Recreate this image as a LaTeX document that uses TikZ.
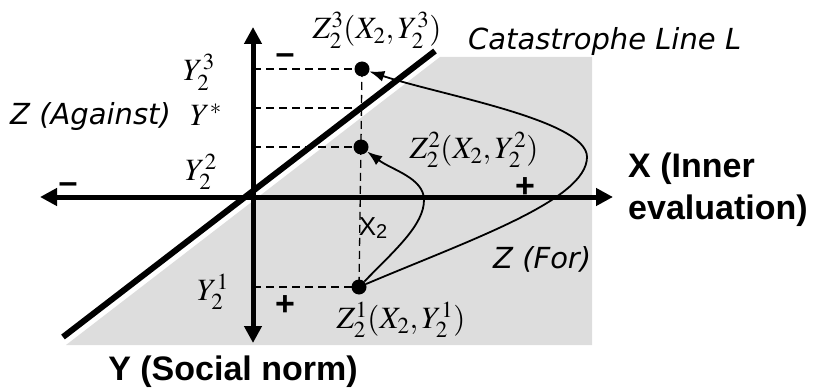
\documentclass[tikz,border=0pt]{standalone}
\usepackage{mathptmx}
\usepackage{fontspec}
\setmainfont{Liberation Serif}
\newfontfamily\boldsans{Liberation Sans}
\newfontfamily\comicf{DejaVu Sans}
\usetikzlibrary{arrows.meta}
\definecolor{shadegray}{RGB}{221,221,221}
\begin{document}
\begin{tikzpicture}[x=1pt,y=-1pt,
  axisln/.style={line width=5pt,{Triangle[length=17pt,width=17pt]}-{Triangle[length=17pt,width=17pt]}},
  catline/.style={line width=6pt},
  dashln/.style={line width=1.3pt,dash pattern=on 8pt off 5pt},
  curveln/.style={line width=1.8pt,-{Latex[length=15pt,width=11pt]}},
  dot/.style={circle,fill=black,inner sep=0pt,minimum size=15pt},
  mathlbl/.style={inner sep=0pt,font=\fontsize{31}{31}\selectfont},
  comiclbl/.style={inner sep=0pt,font=\comicf\itshape\fontsize{29}{29}\selectfont},
  boldlbl/.style={inner sep=0pt,font=\boldsans\bfseries\fontsize{34}{34}\selectfont},
  signlbl/.style={inner sep=0pt,font=\boldsans\bfseries\fontsize{34}{34}\selectfont},
  sanslbl/.style={inner sep=0pt,font=\boldsans\fontsize{26}{26}\selectfont}]
\useasboundingbox (0,0) rectangle (813,390);
% shaded region
\fill[shadegray] (66,345) -- (440,57) -- (592,57) -- (592,345) -- cycle;
% point coordinates
\coordinate (p3) at (362,69);
\coordinate (p2) at (361,147);
\coordinate (p1) at (359,287);
\coordinate (a3) at (253,69);
\coordinate (as) at (253,108);
\coordinate (ls) at (357,108);
\coordinate (a2) at (253,147);
\coordinate (a1) at (253,287);
% dashed guides
\draw[dashln] (a3) -- (p3);
\draw[dashln] (as) -- (ls);
\draw[dashln] (a2) -- (p2);
\draw[dashln] (a1) -- (p1);
\draw[dashln] (p3) -- (p1);
% axes
\coordinate (xl) at (40,197);
\coordinate (xr) at (613,197);
\coordinate (yt) at (253,27);
\coordinate (yb) at (253,343);
\draw[axisln] (xl) -- (xr);
\draw[axisln] (yb) -- (yt);
% catastrophe line
\coordinate (cl1) at (63,337);
\coordinate (cl2) at (435,51);
\draw[catline] (cl1) -- (cl2);
% dots
\node[dot] (z3) at (p3) {};
\node[dot] (z2) at (p2) {};
\node[dot] (z1) at (p1) {};
% curves
\draw[curveln] (z1) .. controls (395,250) and (424,225) .. (424,200)
  .. controls (424,178) and (392,170) .. (z2);
\draw[curveln] (z1) .. controls (470,240) and (587,200) .. (587,157)
  .. controls (587,120) and (440,95) .. (z3);
% math labels
\node[mathlbl] (lz3) at (377,30) {$Z_2^3(X_2,Y_2^3)$};
\node[mathlbl] (lz2) at (474,150) {$Z_2^2(X_2,Y_2^2)$};
\node[mathlbl] (lz1) at (401,320) {$Z_2^1(X_2,Y_2^1)$};
\node[mathlbl] (ly3) at (199,72) {$Y_2^3$};
\node[mathlbl] (lys) at (206,115) {$Y^*$};
\node[mathlbl] (ly2) at (201,172) {$Y_2^2$};
\node[mathlbl] (ly1) at (213,292) {$Y_2^1$};
% script labels
\node[comiclbl,anchor=base west] (cat) at (468,50) {Catastrophe Line L};
\node[comiclbl,anchor=base west] (against) at (10,125) {Z (Against)};
\node[comiclbl,anchor=base west] (for) at (493,268) {Z (For)};
% axis titles
\node[boldlbl,anchor=base west] (xt1) at (628,178) {X (Inner};
\node[boldlbl,anchor=base west] (xt2) at (628,219) {evaluation)};
\node[boldlbl,anchor=base] (ytl) at (233,380) {Y (Social norm)};
% signs
\node[signlbl] (mtop) at (285,59) {–};
\node[signlbl] (mleft) at (68,188) {–};
\node[signlbl] (pbot) at (285,306) {+};
\node[signlbl] (pright) at (525,188) {+};
% X2 label
\node[sanslbl] (x2) at (373,228) {X\raisebox{-3pt}{\fontsize{20}{20}\selectfont 2}};
\end{tikzpicture}
\end{document}
